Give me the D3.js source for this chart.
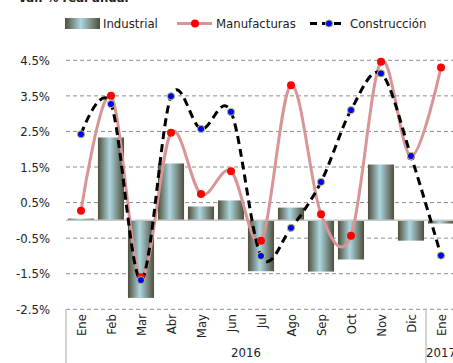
<!DOCTYPE html>
<html>
<head>
<meta charset="utf-8">
<script src="https://cdn.jsdelivr.net/npm/d3@7"></script>
<style>
  body { margin: 0; background: #fff; }
  text { font-family: "DejaVu Sans", sans-serif; font-stretch: condensed; fill: #222; }
</style>
</head>
<body>
<svg id="chart" width="453" height="363"></svg>
<script>
// months on the axis, last one is Jan 2017
var months = ["Ene", "Feb", "Mar", "Abr", "May", "Jun", "Jul", "Ago", "Sep", "Oct", "Nov", "Dic", "Ene"];
var years = [{ label: "2016", from: 0, to: 11 }, { label: "2017", from: 12, to: 12 }];

var industrial = [0.05, 2.33, -2.18, 1.60, 0.39, 0.56, -1.43, 0.36, -1.44, -1.10, 1.57, -0.57, -0.09];
var manufacturas = [0.27, 3.50, -1.60, 2.46, 0.74, 1.38, -0.57, 3.80, 0.17, -0.43, 4.46, 1.80, 4.30];
var construccion = [2.42, 3.27, -1.68, 3.49, 2.57, 3.05, -1.00, -0.21, 1.08, 3.10, 4.13, 1.81, -0.99];

var yTicks = [4.5, 3.5, 2.5, 1.5, 0.5, -0.5, -1.5, -2.5];

(function () {
  var svg = d3.select("#chart");
  var pLeft = 66, pRight = 456, pTop = 60.3, pBottom = 309.3;

  var x = d3.scaleBand().domain(d3.range(months.length)).range([pLeft, pRight]).paddingInner(0.13).paddingOuter(0.065);
  var y = d3.scaleLinear().domain([-2.5, 4.5]).range([pBottom, pTop]);
  var cx = function (i) { return x(i) + x.bandwidth() / 2; };

  // title, mostly cut off at the top
  svg.append("text").attr("x", 18).attr("y", 2).attr("font-size", "13px").attr("font-weight", "bold").text("Var. % real anual");

  // gradient for the bars
  var grad = svg.append("defs").append("linearGradient").attr("id", "barGrad").attr("x1", "0").attr("x2", "1").attr("y1", "0").attr("y2", "0");
  grad.append("stop").attr("offset", "0%").attr("stop-color", "#4f4e3a");
  grad.append("stop").attr("offset", "45%").attr("stop-color", "#acd6df");
  grad.append("stop").attr("offset", "100%").attr("stop-color", "#4f4e3a");

  // grid lines
  svg.append("g").selectAll("line").data(yTicks).enter().append("line")
    .attr("x1", pLeft).attr("x2", 453)
    .attr("y1", function (d) { return y(d); }).attr("y2", function (d) { return y(d); })
    .attr("stroke", "#8c8c8c").attr("stroke-width", 1).attr("stroke-dasharray", "4,3");

  var yAxis = d3.axisLeft(y).tickValues(yTicks).tickSize(0).tickPadding(16)
    .tickFormat(function (d) { return d.toFixed(1) + "%"; });
  var gy = svg.append("g").attr("transform", "translate(" + pLeft + ",0)").call(yAxis);
  gy.select(".domain").remove();
  gy.attr("font-family", null).attr("font-size", null);
  gy.selectAll("text").attr("font-size", "13px").attr("fill", "#222");

  // bars
  svg.append("g").selectAll("rect").data(industrial).enter().append("rect")
    .attr("x", function (d, i) { return x(i); })
    .attr("width", x.bandwidth())
    .attr("y", function (d) { return y(Math.max(0, d)); })
    .attr("height", function (d) { return Math.abs(y(d) - y(0)); })
    .attr("fill", "url(#barGrad)");

  // zero line
  svg.append("line").attr("x1", pLeft).attr("x2", 453).attr("y1", y(0)).attr("y2", y(0))
    .attr("stroke", "#c8c8c8").attr("stroke-width", 1.5);

  var line = d3.line()
    .x(function (d, i) { return cx(i); })
    .y(function (d) { return y(d); })
    .curve(d3.curveCatmullRom.alpha(0));

  svg.append("path").datum(manufacturas).attr("d", line)
    .attr("fill", "none").attr("stroke", "#d99595").attr("stroke-width", 3);
  svg.append("path").datum(construccion).attr("d", line)
    .attr("fill", "none").attr("stroke", "#000").attr("stroke-width", 3).attr("stroke-dasharray", "8,5");

  svg.append("g").selectAll("circle").data(manufacturas).enter().append("circle")
    .attr("cx", function (d, i) { return cx(i); }).attr("cy", function (d) { return y(d); })
    .attr("r", 4).attr("fill", "#ff0000");
  svg.append("g").selectAll("circle").data(construccion).enter().append("circle")
    .attr("cx", function (d, i) { return cx(i); }).attr("cy", function (d) { return y(d); })
    .attr("r", 3.6).attr("fill", "#0000ff").attr("stroke", "#b8c85a").attr("stroke-width", 1);

  // category axis
  var axisColor = "#c8c8c8";
  svg.append("line").attr("x1", pLeft).attr("x2", pLeft).attr("y1", pBottom).attr("y2", 363).attr("stroke", axisColor).attr("stroke-width", 1.5);
  years.forEach(function (yr) {
    var x1 = x(yr.from) - x.step() * x.paddingInner() / 2;
    var x2 = x(yr.to) + x.bandwidth() + x.step() * x.paddingInner() / 2;
    if (yr.to < months.length - 1)
      svg.append("line").attr("x1", x2).attr("x2", x2).attr("y1", pBottom).attr("y2", 363).attr("stroke", axisColor).attr("stroke-width", 1.5);
    svg.append("text").attr("x", (x1 + x2) / 2).attr("y", 357).attr("text-anchor", "middle")
      .attr("font-size", "13px").text(yr.label);
  });
  svg.append("g").selectAll("text").data(months).enter().append("text")
    .attr("transform", function (d, i) { return "translate(" + (cx(i) + 4.5) + ",314) rotate(-90)"; })
    .attr("text-anchor", "end").attr("font-size", "13px").text(function (d) { return d; });

  // legend
  var lg = svg.append("g").attr("font-size", "13px");
  lg.append("rect").attr("x", 65).attr("y", 18).attr("width", 35).attr("height", 11).attr("fill", "url(#barGrad)");
  lg.append("text").attr("x", 103).attr("y", 28).text("Industrial");
  lg.append("line").attr("x1", 177).attr("x2", 212).attr("y1", 23.5).attr("y2", 23.5).attr("stroke", "#d99595").attr("stroke-width", 3);
  lg.append("circle").attr("cx", 195).attr("cy", 23.5).attr("r", 4).attr("fill", "#ff0000");
  lg.append("text").attr("x", 216).attr("y", 28).text("Manufacturas");
  lg.append("line").attr("x1", 310).attr("x2", 344).attr("y1", 23.5).attr("y2", 23.5).attr("stroke", "#000").attr("stroke-width", 3).attr("stroke-dasharray", "7,5");
  lg.append("circle").attr("cx", 329).attr("cy", 23.5).attr("r", 3.6).attr("fill", "#0000ff").attr("stroke", "#b8c85a").attr("stroke-width", 1);
  lg.append("text").attr("x", 350).attr("y", 28).text("Construcción");
})();
</script>
</body>
</html>
